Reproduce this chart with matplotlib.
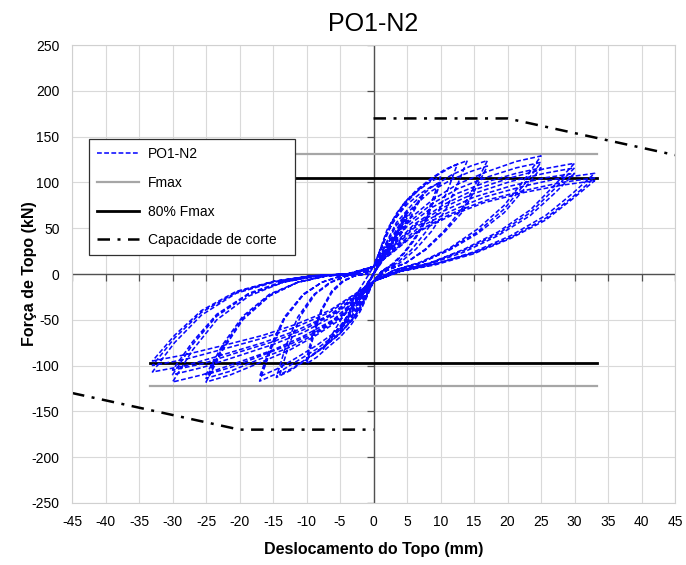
import matplotlib
matplotlib.use('Agg')
import matplotlib.pyplot as plt
from matplotlib.lines import TICKDOWN, TICKLEFT

plt.rcParams['font.family'] = ['Liberation Sans', 'DejaVu Sans']
plt.rcParams['axes.unicode_minus'] = False

# ensaio ciclico PO1-N2 (um ciclo por linha)
desloc = [
    0, 1.2, 2.5, 1.2, 0, -1.2, -2.5, -1.2,
    0, 2.5, 5, 2.5, 0, -2.5, -5, -2.5,
    0, 2.5, 5, 2.5, 0, -2.5, -5, -2.5,
    0, 3.8, 7.5, 3.8, 0, -3.8, -7.5, -3.8,
    0, 0.8, 2, 3.5, 5, 6.8, 8.5, 10, 9, 7.8, 6.2, 4.5, 2.8, 1.2, 0, -0.8, -2, -3.5, -5, -6.8, -8.5, -10, -9, -7.8, -6.2, -4.5, -2.8, -1.2,
    0, 0.8, 2, 3.5, 5, 6.8, 8.5, 10, 9, 7.8, 6.2, 4.5, 2.8, 1.2, 0, -0.8, -2, -3.5, -5, -6.8, -8.5, -10, -9, -7.8, -6.2, -4.5, -2.8, -1.2,
    0, 1, 2.5, 4.4, 6.3, 8.5, 10.6, 12.5, 11.3, 9.8, 7.8, 5.6, 3.5, 1.5, 0, -1.1, -2.8, -4.9, -7, -9.5, -11.9, -14, -12.6, -10.9, -8.7, -6.3, -3.9, -1.7,
    0, 1.1, 2.8, 4.9, 7, 9.5, 11.9, 14, 12.6, 10.9, 8.7, 6.3, 3.9, 1.7, 0, -1.2, -2.9, -5.1, -7.3, -9.9, -12.3, -14.5, -13.1, -11.3, -9, -6.5, -4.1, -1.7,
    0, 1.4, 3.4, 6, 8.5, 11.6, 14.5, 17, 15.3, 13.3, 10.5, 7.7, 4.8, 2, 0, -1.4, -3.4, -6, -8.5, -11.6, -14.5, -17, -15.3, -13.3, -10.5, -7.7, -4.8, -2,
    0, 1.4, 3.4, 6, 8.5, 11.6, 14.5, 17, 15.3, 13.3, 10.5, 7.7, 4.8, 2, 0, -1.4, -3.4, -6, -8.5, -11.6, -14.5, -17, -15.3, -13.3, -10.5, -7.7, -4.8, -2,
    0, 2, 5, 8.8, 12.5, 17, 21.3, 25, 22.5, 19.5, 15.5, 11.3, 7, 3, 0, -2, -5, -8.8, -12.5, -17, -21.3, -25, -22.5, -19.5, -15.5, -11.3, -7, -3,
    0, 2, 5, 8.8, 12.5, 17, 21.3, 25, 22.5, 19.5, 15.5, 11.3, 7, 3, 0, -2, -5, -8.8, -12.5, -17, -21.3, -25, -22.5, -19.5, -15.5, -11.3, -7, -3,
    0, 2, 5, 8.8, 12.5, 17, 21.3, 25, 22.5, 19.5, 15.5, 11.3, 7, 3, 0, -2, -5, -8.8, -12.5, -17, -21.3, -25, -22.5, -19.5, -15.5, -11.3, -7, -3,
    0, 2.4, 6, 10.5, 15, 20.4, 25.5, 30, 27, 23.4, 18.6, 13.5, 8.4, 3.6, 0, -2.4, -6, -10.5, -15, -20.4, -25.5, -30, -27, -23.4, -18.6, -13.5, -8.4, -3.6,
    0, 2.4, 6, 10.5, 15, 20.4, 25.5, 30, 27, 23.4, 18.6, 13.5, 8.4, 3.6, 0, -2.4, -6, -10.5, -15, -20.4, -25.5, -30, -27, -23.4, -18.6, -13.5, -8.4, -3.6,
    0, 2.4, 6, 10.5, 15, 20.4, 25.5, 30, 27, 23.4, 18.6, 13.5, 8.4, 3.6, 0, -2.4, -6, -10.5, -15, -20.4, -25.5, -30, -27, -23.4, -18.6, -13.5, -8.4, -3.6,
    0, 2.6, 6.6, 11.6, 16.5, 22.4, 28, 33, 29.7, 25.7, 20.5, 14.9, 9.2, 4, 0, -2.6, -6.6, -11.6, -16.5, -22.4, -28, -33, -29.7, -25.7, -20.5, -14.9, -9.2, -4,
    0, 2.6, 6.6, 11.6, 16.5, 22.4, 28, 33, 29.7, 25.7, 20.5, 14.9, 9.2, 4, 0, -2.6, -6.6, -11.6, -16.5, -22.4, -28, -33, -29.7, -25.7, -20.5, -14.9, -9.2, -4,
    0, 2.6, 6.6, 11.6, 16.5, 22.4, 28, 33, 29.7, 25.7, 20.5, 14.9, 9.2, 4, 0, -2.6, -6.6, -11.6, -16.5, -22.4, -28, -33, -29.7, -25.7, -20.5, -14.9, -9.2, -4,
    0,
]
forca = [
    0, 21, 38, 17, 0, -19, -35, -16,
    0, 37, 68, 31, 0, -34, -62, -28,
    0, 35, 64, 29, 0, -33, -60, -27,
    0, 48, 88, 40, 0, -45, -82, -37,
    8, 23, 48, 67, 81, 92, 101, 106, 85, 61, 40, 23, 11, 3, -8, -22, -41, -57, -69, -80, -91, -98, -69, -41, -20, -8, -2, 0,
    8, 22, 45, 63, 76, 87, 95, 100, 80, 58, 38, 22, 10, 3, -8, -20, -39, -53, -64, -75, -86, -92, -64, -39, -18, -7, -2, 0,
    8, 26, 54, 76, 91, 104, 114, 120, 96, 70, 46, 26, 12, 4, -8, -24, -46, -64, -77, -90, -102, -110, -77, -46, -22, -9, -2, 0,
    8, 27, 56, 78, 94, 108, 118, 124, 99, 72, 47, 27, 12, 4, -8, -25, -47, -66, -79, -93, -105, -113, -79, -47, -23, -9, -2, 0,
    8, 27, 56, 78, 94, 108, 118, 124, 99, 72, 47, 27, 12, 4, -8, -26, -49, -68, -82, -96, -109, -117, -82, -49, -23, -9, -2, 0,
    8, 26, 53, 74, 90, 103, 112, 118, 94, 68, 45, 26, 12, 4, -8, -25, -47, -65, -78, -92, -104, -112, -78, -47, -22, -9, -2, 0,
    8, 28, 58, 81, 98, 112, 123, 129, 103, 75, 49, 28, 13, 4, -8, -26, -50, -68, -83, -97, -110, -118, -83, -50, -24, -9, -2, 0,
    8, 27, 55, 77, 93, 106, 116, 122, 98, 71, 46, 27, 12, 4, -8, -25, -48, -66, -80, -93, -106, -114, -80, -48, -23, -9, -2, 0,
    8, 26, 52, 73, 88, 101, 110, 116, 93, 67, 44, 26, 12, 3, -8, -24, -46, -64, -77, -90, -102, -110, -77, -46, -22, -9, -2, 0,
    8, 27, 54, 76, 92, 105, 115, 121, 97, 70, 46, 27, 12, 4, -8, -26, -50, -68, -83, -97, -110, -118, -83, -50, -24, -9, -2, 0,
    8, 26, 52, 73, 88, 101, 110, 116, 93, 67, 44, 26, 12, 3, -8, -24, -46, -64, -77, -90, -102, -110, -77, -46, -22, -9, -2, 0,
    8, 24, 50, 69, 84, 96, 105, 110, 88, 64, 42, 24, 11, 3, -8, -23, -44, -61, -74, -86, -98, -105, -74, -44, -21, -8, -2, 0,
    8, 24, 50, 69, 84, 96, 105, 110, 88, 64, 42, 24, 11, 3, -8, -24, -45, -62, -75, -88, -100, -107, -75, -45, -21, -9, -2, 0,
    8, 23, 47, 66, 80, 91, 100, 105, 84, 61, 40, 23, 11, 3, -8, -22, -42, -58, -70, -82, -93, -100, -70, -42, -20, -8, -2, 0,
    8, 22, 46, 64, 78, 89, 97, 102, 82, 59, 39, 22, 10, 3, -8, -21, -40, -55, -67, -78, -88, -95, -67, -40, -19, -8, -2, 0,
    0,
]

# forca maxima e 80% (kN), entre os deslocamentos maximos
x_fmax = [-33.4, 33.4]
fmax_pos = [131, 131]
fmax_neg = [-122, -122]
f80_pos = [105, 105]
f80_neg = [-97.6, -97.6]

# capacidade de corte
x_corte_pos = [0, 20, 45]
y_corte_pos = [170, 170, 130]
x_corte_neg = [-45, -20, 0]
y_corte_neg = [-130, -170, -170]

xticks = list(range(-45, 50, 5))
yticks = list(range(-250, 300, 50))

fig = plt.figure(figsize=(6.86, 5.65), dpi=100)
ax = fig.add_axes([0.105, 0.110, 0.879, 0.810])

ax.plot(desloc, forca, color='#0a0aff', lw=1.15, dashes=(3, 1.5), label='PO1-N2', zorder=3)
ax.plot(x_fmax, fmax_pos, color='#a6a6a6', lw=1.6, label='Fmax', zorder=2)
ax.plot(x_fmax, fmax_neg, color='#a6a6a6', lw=1.6, zorder=2)
ax.plot(x_fmax, f80_pos, color='black', lw=2.0, label='80% Fmax', zorder=2)
ax.plot(x_fmax, f80_neg, color='black', lw=2.0, zorder=2)
ax.plot(x_corte_pos, y_corte_pos, color='black', lw=1.8, dashes=(5, 3, 1.2, 3),
        label='Capacidade de corte', zorder=2)
ax.plot(x_corte_neg, y_corte_neg, color='black', lw=1.8, dashes=(5, 3, 1.2, 3), zorder=2)

# eixos a passar pela origem
ax.axhline(0, color='#505050', lw=1.0, zorder=1.5)
ax.axvline(0, color='#505050', lw=1.0, zorder=1.5)
ax.plot(xticks, [0] * len(xticks), ls='none', marker=TICKDOWN, ms=5,
        mew=0.9, color='#505050', zorder=1.5)
ax.plot([0] * len(yticks), yticks, ls='none', marker=TICKLEFT, ms=5,
        mew=0.9, color='#505050', zorder=1.5)

ax.set_xlim(-45, 45)
ax.set_ylim(-250, 250)
ax.set_xticks(xticks)
ax.set_yticks(yticks)
ax.tick_params(length=0, labelsize=10, pad=9)
ax.grid(True, color='#d9d9d9', lw=0.8)
ax.set_axisbelow(True)
for s in ax.spines.values():
    s.set_color('#d0d0d0')
    s.set_linewidth(0.8)

ax.set_title('PO1-N2', fontsize=18, pad=10)
ax.set_xlabel('Deslocamento do Topo (mm)', fontsize=11.5, fontweight='bold', labelpad=9)
ax.set_ylabel('Força de Topo (kN)', fontsize=11.5, fontweight='bold', labelpad=-4)

leg = ax.legend(loc='upper left', bbox_to_anchor=(0.028, 0.56, 0.3416, 0.235),
                mode='expand', borderaxespad=0,
                fontsize=10, fancybox=False, framealpha=1, edgecolor='#303030',
                handlelength=3.0, labelspacing=1.05, borderpad=0.6, handletextpad=0.65)
leg.get_frame().set_linewidth(0.9)

fig.savefig('out.png', dpi=100)
